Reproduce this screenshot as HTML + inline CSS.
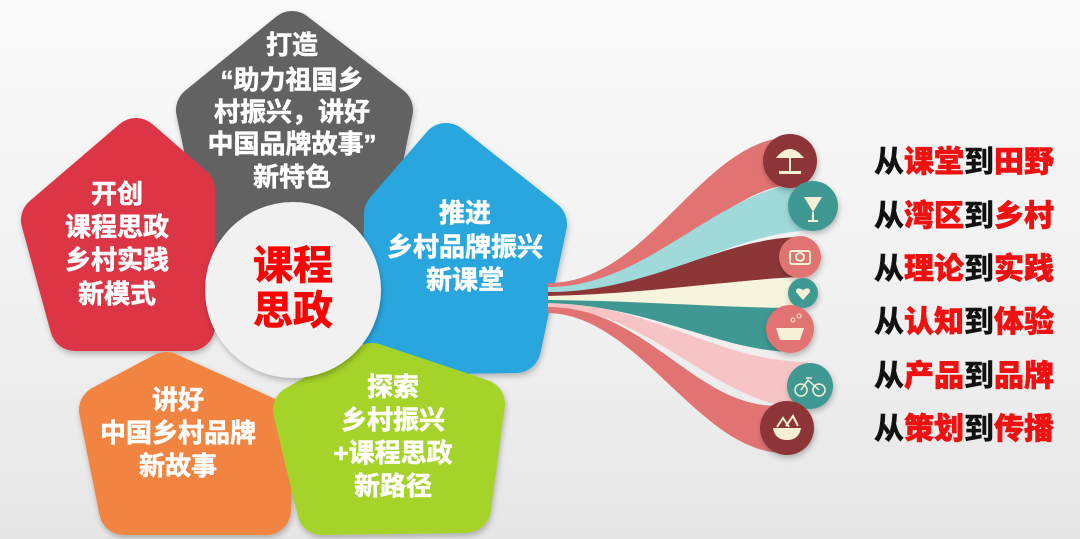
<!DOCTYPE html>
<html><head><meta charset="utf-8"><style>
html,body{margin:0;padding:0}
body{width:1080px;height:539px;overflow:hidden;background:linear-gradient(#fafafa,#f0f0f0 60%,#e6e6e6);font-family:"Liberation Sans","Noto Sans CJK SC",sans-serif}
svg{position:absolute;left:0;top:0}
.t{font-family:"Liberation Sans","Noto Sans CJK SC",sans-serif;font-weight:bold;fill:#fff;stroke:#fff;stroke-width:0.6;font-size:26px;text-anchor:middle;dominant-baseline:central}
.r{position:absolute;left:874px;font-size:30px;font-weight:bold;line-height:30px;color:#111;white-space:nowrap;font-family:"Liberation Sans","Noto Sans CJK SC",sans-serif;-webkit-text-stroke:0.6px currentColor}
.r b{color:#f01010}
</style></head><body>
<svg width="1080" height="539" viewBox="0 0 1080 539">
<defs><filter id="sh" x="-20%" y="-20%" width="140%" height="140%"><feDropShadow dx="1" dy="3" stdDeviation="3" flood-opacity="0.25"/></filter></defs>
<g stroke-linejoin="round" stroke-width="50" filter="url(#sh)">
<polygon points="292,36 388,110 365,225 225,225 201,110" fill="#626262" stroke="#626262"/>
<polygon points="136,143 190,190 190,326 75,326 46,220" fill="#dc3545" stroke="#dc3545"/>
<polygon points="446,148 542,224 516,348 388,350 389,214" fill="#29a6df" stroke="#29a6df"/>
<polygon points="166,377 270,424 266,510 124,510 104,410" fill="#f1843f" stroke="#f1843f"/>
<polygon points="372,368 480,404 466,508 322,510 298,410" fill="#a6d32b" stroke="#a6d32b"/>
</g>
<circle cx="293" cy="290" r="88" fill="#f1f1f1" filter="url(#sh)"/>
<text class="t" x="292" y="45">打造</text>
<text class="t" x="292" y="80">“助力祖国乡</text>
<text class="t" x="292" y="112">村振兴，讲好</text>
<text class="t" x="292" y="144">中国品牌故事”</text>
<text class="t" x="292" y="177">新特色</text>
<text class="t" x="117" y="194">开创</text>
<text class="t" x="117" y="227">课程思政</text>
<text class="t" x="117" y="260">乡村实践</text>
<text class="t" x="117" y="294">新模式</text>
<text class="t" x="465" y="213">推进</text>
<text class="t" x="465" y="247">乡村品牌振兴</text>
<text class="t" x="465" y="280">新课堂</text>
<text class="t" x="178" y="400">讲好</text>
<text class="t" x="178" y="433">中国乡村品牌</text>
<text class="t" x="178" y="466">新故事</text>
<text class="t" x="393" y="387">探索</text>
<text class="t" x="393" y="420">乡村振兴</text>
<text class="t" x="393" y="453">+课程思政</text>
<text class="t" x="393" y="486">新路径</text>
<text x="293" y="266" text-anchor="middle" dominant-baseline="central" font-size="40" font-weight="bold" fill="#f00" stroke="#f00" stroke-width="0.8" font-family="Liberation Sans, Noto Sans CJK SC, sans-serif">课程</text>
<text x="293" y="311" text-anchor="middle" dominant-baseline="central" font-size="40" font-weight="bold" fill="#f00" stroke="#f00" stroke-width="0.8" font-family="Liberation Sans, Noto Sans CJK SC, sans-serif">思政</text>

<g>
<path d="M548,283 C650,283 700,140 790,137 L790,185 C720,190 660,290 548,288 Z" fill="#e27373"/>
<path d="M548,306 C650,308 700,415 786,405 L786,453 C700,455 640,315 548,313 Z" fill="#e27373"/>
<path d="M548,287 C650,287 720,185 812,182 L812,230 C720,235 660,294 548,293 Z" fill="#9fd9d9"/>
<path d="M548,302 C650,304 720,362 808,362 L808,408 C720,410 650,308 548,307 Z" fill="#f7c4c6"/>
<path d="M548,292 C650,292 720,238 800,237 L800,277 C720,280 650,297 548,297 Z" fill="#8d3637"/>
<path d="M548,297 C650,300 720,305 795,305 L795,352 C720,352 650,305 548,303 Z" fill="#3f9893"/>
<path d="M548,296 C650,294 720,280 803,278 L803,308 C720,308 650,301 548,300 Z" fill="#f6f4dc"/>
</g>
<g filter="url(#sh)">
<circle cx="790" cy="161" r="27" fill="#8d3637"/>
<circle cx="813" cy="206" r="25" fill="#3f9893"/>
<circle cx="800" cy="257" r="21" fill="#e27373"/>
<circle cx="803" cy="293" r="15" fill="#3f9893"/>
<circle cx="790" cy="329" r="24" fill="#e27373"/>
<circle cx="810" cy="386" r="23" fill="#3f9893"/>
<circle cx="787" cy="428" r="27" fill="#8d3637"/>
</g>
<g fill="#f6f0d6" stroke="#f6f0d6">
<path d="M776,158 Q790,140 804,158 Z" stroke="none"/><line x1="790" y1="155" x2="790" y2="172" stroke-width="2"/><rect x="779" y="171" width="22" height="3" stroke="none"/>
<path d="M804,197 L822,197 L813,212 Z" stroke="none"/><line x1="813" y1="212" x2="813" y2="220" stroke-width="2"/><line x1="808" y1="221" x2="818" y2="221" stroke-width="2"/>
<rect x="790" y="251" width="20" height="13" rx="2" fill="none" stroke-width="2"/><circle cx="800" cy="257" r="4" fill="none" stroke-width="2"/>
<path d="M803,300 L796,292 Q796,286 803,290 Q810,286 810,292 Z" stroke="none"/>
<path d="M776,328 L804,328 L800,340 L780,340 Z" stroke="none"/><circle cx="793" cy="320" r="2" fill="none"/><circle cx="799" cy="316" r="2" fill="none"/>
<circle cx="801" cy="390" r="6" fill="none" stroke-width="1.5"/><circle cx="819" cy="390" r="6" fill="none" stroke-width="1.5"/><path d="M801,390 L808,380 L819,390 M806,378 L812,378" fill="none" stroke-width="1.5"/>
<path d="M773,428 L801,428 Q799,440 787,440 Q775,440 773,428 Z" stroke="none"/><path d="M777,427 L783,418 L789,427 M786,426 L793,416 L798,426" fill="none" stroke-width="2"/>
</g>
</svg>
<div class="r" style="top:148px">从<b>课堂</b>到<b>田野</b></div>
<div class="r" style="top:202px">从<b>湾区</b>到<b>乡村</b></div>
<div class="r" style="top:255px">从<b>理论</b>到<b>实践</b></div>
<div class="r" style="top:308px">从<b>认知</b>到<b>体验</b></div>
<div class="r" style="top:362px">从<b>产品</b>到<b>品牌</b></div>
<div class="r" style="top:415px">从<b>策划</b>到<b>传播</b></div>
</body></html>
